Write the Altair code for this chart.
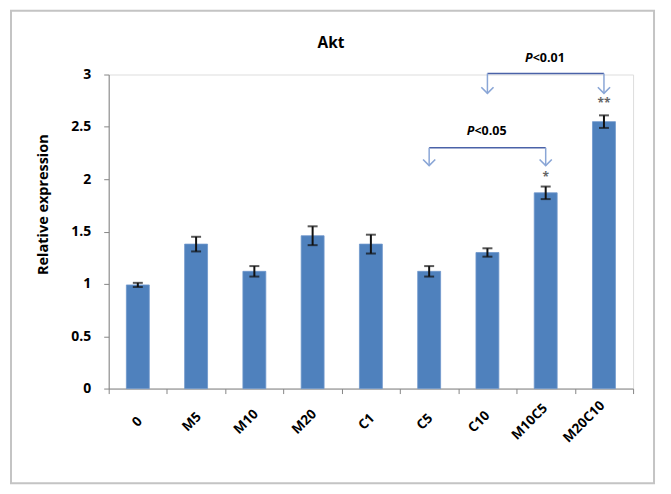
import altair as alt
import pandas as pd

categories = ["0", "M5", "M10", "M20", "C1", "C5", "C10", "M10C5", "M20C10"]
means = [0.99, 1.38, 1.12, 1.46, 1.38, 1.12, 1.30, 1.87, 2.55]
errors = [0.02, 0.07, 0.05, 0.09, 0.09, 0.05, 0.04, 0.06, 0.06]

# significance brackets: from, to, middle category, bracket level, arrow tip level, label, label level
br_from = ["C5", "C10"]
br_to = ["M10C5", "M20C10"]
br_mid = ["C10", "M10C5"]
br_level = [2.30, 3.01]
br_tip = [2.13, 2.82]
br_label = ["<0.05", "<0.01"]
br_label_level = [2.46, 3.16]

star_cat = ["M10C5", "M20C10"]
star_text = ["*", "**"]
star_level = [2.02, 2.73]

FONT = "Open Sans"

df = pd.DataFrame({"cat": categories, "mean": means, "err": errors})
df["lo"] = df["mean"] - df["err"]
df["hi"] = df["mean"] + df["err"]

x = alt.X(
    "cat:N",
    sort=categories,
    scale=alt.Scale(domain=categories, paddingInner=0, paddingOuter=0),
    axis=alt.Axis(
        title=None,
        labelAngle=-45,
        labelAlign="center",
        labelBaseline="middle",
        labelPadding=28,
        labelOffset={"expr": "3 - 3.9*length(datum.label)"},
        labelFont=FONT,
        labelFontWeight="bold",
        labelFontSize=13.5,
        labelColor="#000000",
        tickBand="extent",
        tickSize=5,
        tickColor="#868686",
        domainColor="#868686",
        labelOverlap=False,
    ),
)

y_scale = alt.Scale(domain=[0, 3], nice=False)

bars = alt.Chart(df).mark_bar(width=23, color="#4f81bd", stroke="#6f97cc", strokeWidth=0.8).encode(
    x=x,
    y=alt.Y(
        "mean:Q",
        scale=y_scale,
        axis=alt.Axis(
            values=[0, 0.5, 1, 1.5, 2, 2.5, 3],
            format=".1~f",
            grid=False,
            title="Relative expression",
            titleFont=FONT,
            titleFontWeight="bold",
            titleFontSize=14.5,
            titleColor="#000000",
            titleX=-65,
            titleY=130,
            titleAngle=270,
            titleAlign="center",
            titleBaseline="middle",
            labelFont=FONT,
            labelFontWeight="bold",
            labelFontSize=14,
            labelColor="#000000",
            labelPadding=13,
            tickSize=5,
            tickColor="#868686",
            domainColor="#868686",
        ),
    ),
)

err_rule = alt.Chart(df).mark_rule(color="#111111", strokeWidth=2).encode(
    x=alt.X("cat:N", sort=categories), y=alt.Y("lo:Q", scale=y_scale), y2="hi:Q"
)
cap_lo = alt.Chart(df).mark_tick(color="#111111", thickness=2, size=10, orient="horizontal").encode(
    x=alt.X("cat:N", sort=categories), y=alt.Y("lo:Q", scale=y_scale)
)
cap_hi = alt.Chart(df).mark_tick(color="#111111", thickness=2, size=10, orient="horizontal").encode(
    x=alt.X("cat:N", sort=categories), y=alt.Y("hi:Q", scale=y_scale)
)

bdf = pd.DataFrame({
    "from": br_from, "to": br_to, "mid": br_mid, "level": br_level, "tip": br_tip,
    "label": br_label, "llevel": br_label_level,
})
arr = pd.DataFrame({
    "cat": br_from + br_to,
    "level": br_level + br_level,
    "tip": br_tip + br_tip,
})
hline = alt.Chart(bdf).mark_rule(color="#4a62a8", strokeWidth=1.5).encode(
    x=alt.X("from:N", sort=categories), x2="to:N", y=alt.Y("level:Q", scale=y_scale)
)
stems = alt.Chart(arr).mark_rule(color="#8aa6d6", strokeWidth=1.5).encode(
    x=alt.X("cat:N", sort=categories), y=alt.Y("level:Q", scale=y_scale), y2="tip:Q"
)
heads = alt.Chart(arr).mark_point(
    shape="M-1,-1L0,0L1,-1", filled=False, stroke="#8aa6d6", strokeWidth=1.6, size=150, opacity=1
).encode(x=alt.X("cat:N", sort=categories), y=alt.Y("tip:Q", scale=y_scale))

blabels = alt.Chart(bdf).mark_text(
    font=FONT, fontWeight="bold", fontSize=12.5, color="#000000", align="left", dx=-13
).encode(
    x=alt.X("mid:N", sort=categories),
    y=alt.Y("llevel:Q", scale=y_scale),
    text="label:N",
)
bletter = alt.Chart(bdf).mark_text(
    font=FONT, fontWeight="bold", fontStyle="italic", fontSize=12.5, color="#000000", align="right", dx=-13
).encode(
    x=alt.X("mid:N", sort=categories),
    y=alt.Y("llevel:Q", scale=y_scale),
    text=alt.value("P"),
)

sdf = pd.DataFrame({"cat": star_cat, "t": star_text, "lv": star_level})
stars = alt.Chart(sdf).mark_text(font=FONT, fontWeight="bold", fontSize=12, color="#666666").encode(
    x=alt.X("cat:N", sort=categories), y=alt.Y("lv:Q", scale=y_scale), text="t:N"
)

title = alt.Chart(pd.DataFrame({"t": ["Akt"]})).mark_text(
    font=FONT, fontWeight="bold", fontSize=15.5, color="#000000"
).encode(x=alt.value(223), y=alt.value(-32), text="t:N")

frame = alt.Chart(pd.DataFrame({"a": [0]})).mark_rect(
    filled=False, stroke="#c4c4c4", strokeWidth=2
).encode(x=alt.value(-98), x2=alt.value(547), y=alt.value(-64), y2=alt.value(410))

chart = alt.layer(
    frame, bars, err_rule, cap_lo, cap_hi, hline, stems, heads, blabels, bletter, stars, title
).properties(
    width=526,
    height=315,
    autosize=alt.AutoSizeParams(type="none"),
    padding={"left": 101, "top": 66, "right": 30, "bottom": 100},
).configure_view(stroke=None).configure(background="white")

chart.save("out.html", embed_options={"renderer": "svg", "actions": False})
